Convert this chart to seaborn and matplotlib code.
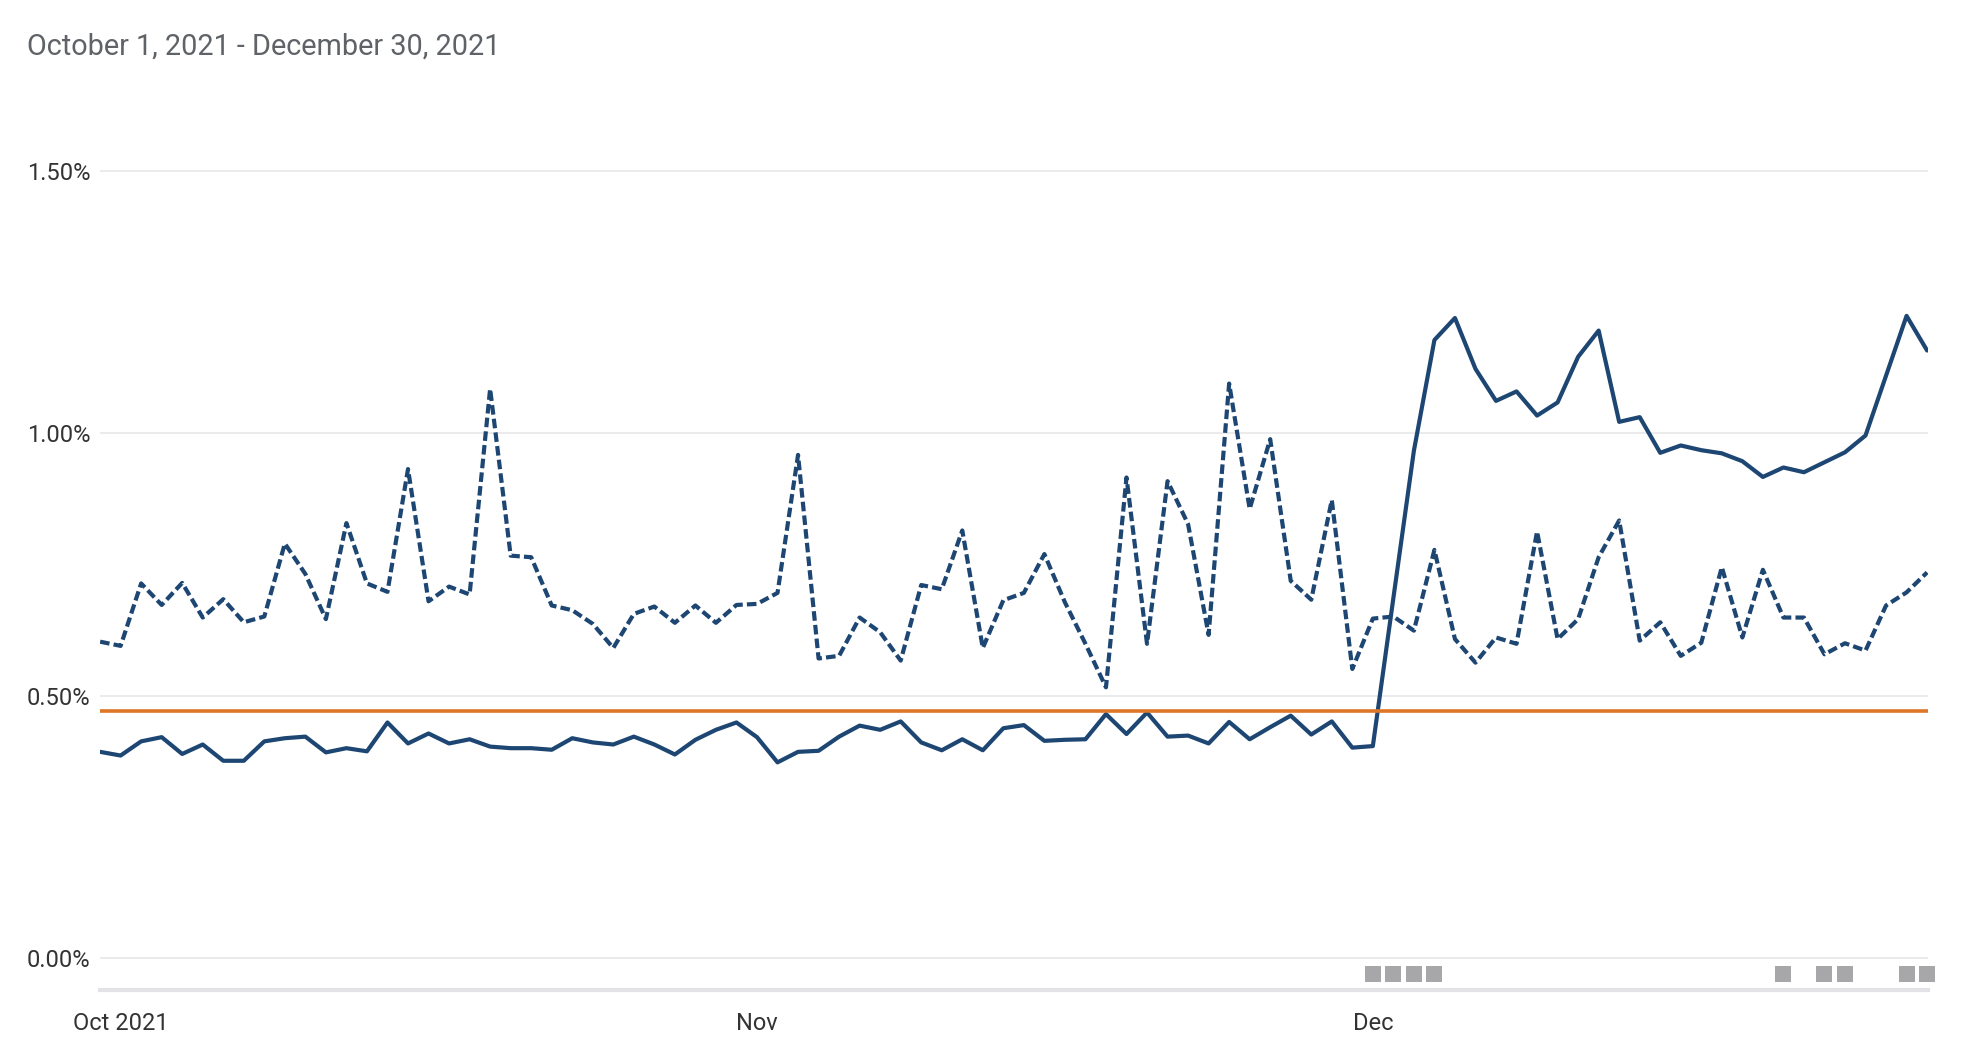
import matplotlib
matplotlib.use("Agg")
import matplotlib.pyplot as plt
import seaborn as sns
import pandas as pd
import numpy as np

title = "October 1, 2021 - December 30, 2021"
start_date = "2021-09-30"

# daily rate in %, solid series
solid_rate = [0.393, 0.386, 0.413, 0.421, 0.389, 0.407, 0.376, 0.376, 0.413, 0.419,
              0.422, 0.392, 0.400, 0.394, 0.449, 0.409, 0.428, 0.409, 0.417, 0.403,
              0.400, 0.400, 0.397, 0.419, 0.411, 0.407, 0.422, 0.407, 0.388, 0.416,
              0.435, 0.449, 0.421, 0.373, 0.393, 0.395, 0.422, 0.443, 0.435, 0.451,
              0.411, 0.396, 0.417, 0.396, 0.438, 0.444, 0.414, 0.416, 0.417, 0.465,
              0.427, 0.468, 0.422, 0.424, 0.409, 0.450, 0.417, 0.440, 0.462, 0.426,
              0.451, 0.401, 0.404, 0.686, 0.967, 1.178, 1.220, 1.123, 1.062, 1.080,
              1.034, 1.059, 1.146, 1.196, 1.022, 1.031, 0.963, 0.977, 0.968, 0.962,
              0.947, 0.917, 0.935, 0.926, 0.945, 0.964, 0.996, 1.110, 1.224, 1.158]

# daily rate in %, dashed series
dashed_rate = [0.603, 0.595, 0.714, 0.673, 0.715, 0.649, 0.684, 0.640, 0.651, 0.790,
               0.732, 0.646, 0.829, 0.714, 0.698, 0.932, 0.680, 0.708, 0.693, 1.085,
               0.767, 0.764, 0.672, 0.663, 0.637, 0.591, 0.656, 0.670, 0.639, 0.672,
               0.639, 0.673, 0.675, 0.696, 0.959, 0.571, 0.576, 0.649, 0.621, 0.567,
               0.711, 0.703, 0.815, 0.591, 0.682, 0.696, 0.770, 0.678, 0.599, 0.516,
               0.916, 0.599, 0.909, 0.827, 0.616, 1.095, 0.856, 0.989, 0.719, 0.683,
               0.873, 0.551, 0.647, 0.651, 0.624, 0.778, 0.608, 0.563, 0.611, 0.599,
               0.813, 0.608, 0.646, 0.764, 0.834, 0.605, 0.640, 0.576, 0.601, 0.745,
               0.611, 0.740, 0.649, 0.649, 0.579, 0.600, 0.586, 0.672, 0.697, 0.735]

threshold = 0.47

annotation_days = ["2021-12-01", "2021-12-02", "2021-12-03", "2021-12-04",
                   "2021-12-21", "2021-12-23", "2021-12-24",
                   "2021-12-27", "2021-12-28"]

y_ticks = [0.0, 0.5, 1.0, 1.5]
x_tick_days = ["2021-10-01", "2021-11-01", "2021-12-01"]
x_tick_labels = ["Oct 2021", "Nov", "Dec"]

dates = pd.date_range(start_date, periods=len(solid_rate), freq="D")
df = pd.DataFrame({
    "date": list(dates) + list(dates),
    "rate": solid_rate + dashed_rate,
    "series": ["solid"] * len(solid_rate) + ["dashed"] * len(dashed_rate),
})

sns.set_style("white")
plt.rcParams["font.family"] = ["Roboto", "DejaVu Sans"]

navy = "#1d4673"
orange = "#dd7626"
grid_col = "#e6e6ea"

fig = plt.figure(figsize=(19.78, 10.46), dpi=100)
ax = fig.add_axes([0.0506, 0.0535, 0.9241, 0.8331])

sns.lineplot(data=df, x="date", y="rate", hue="series", style="series",
             palette={"solid": navy, "dashed": navy},
             dashes={"solid": "", "dashed": (2.3, 1.0)},
             linewidth=3.0, legend=False, ax=ax, zorder=2)

ax.axhline(threshold, color=orange, lw=2.6, zorder=3)

ax.scatter(pd.to_datetime(annotation_days), [-0.03] * len(annotation_days),
           marker="s", s=125, color="#a7a7a9", linewidths=0,
           clip_on=False, zorder=4)

ax.set_ylim(-0.061, 1.6)
ax.set_xlim(dates[0], dates[-1] + pd.Timedelta(hours=1))

ax.set_yticks(y_ticks)
ax.set_yticklabels([f"{v:.2f}%" for v in y_ticks])
ax.set_xticks(pd.to_datetime(x_tick_days))
ax.set_xticklabels(x_tick_labels)

ax.yaxis.grid(True, color=grid_col, lw=1.1)
ax.xaxis.grid(False)
ax.set_axisbelow(True)
ax.set_xlabel("")
ax.set_ylabel("")

for s in ["left", "top", "right"]:
    ax.spines[s].set_visible(False)
ax.spines["bottom"].set_color("#e2e2e7")
ax.spines["bottom"].set_linewidth(3)

ax.tick_params(axis="y", length=0, pad=7, labelsize=17, labelcolor="#333333")
ax.tick_params(axis="x", length=5, width=1.5, color="#dcdce0", pad=11,
               labelsize=17, labelcolor="#333333")

fig.text(27 / 1978, 1 - 55 / 1046, title, fontsize=20.8, color="#5f6368",
         ha="left", va="baseline")

fig.savefig("out.png", dpi=100)
